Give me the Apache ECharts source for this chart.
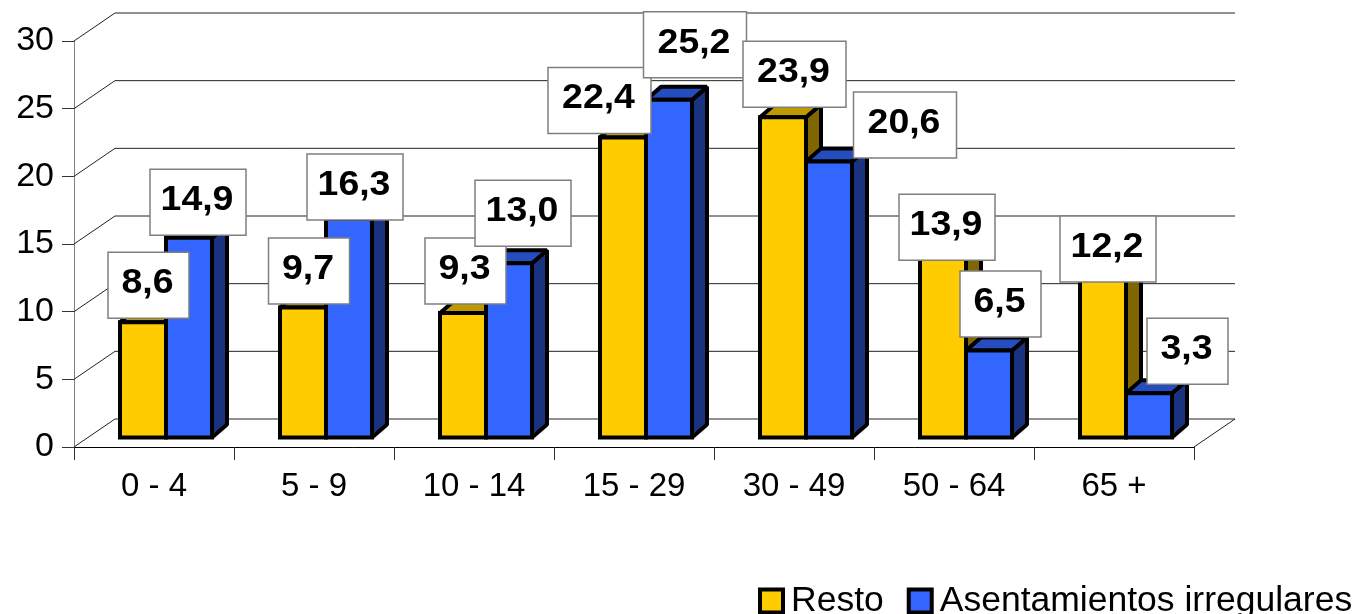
<!DOCTYPE html>
<html>
<head>
<meta charset="utf-8">
<style>html,body{margin:0;padding:0;background:#fff}#c{width:1365px;height:614px}</style>
<script src="https://cdn.jsdelivr.net/npm/echarts@6/dist/echarts.min.js"></script>
</head>
<body>
<div id="c"></div>
<script>
const categories = ['0 - 4', '5 - 9', '10 - 14', '15 - 29', '30 - 49', '50 - 64', '65 +'];
const resto = [8.6, 9.7, 9.3, 22.4, 23.9, 13.9, 12.2];
const asentamientos = [14.9, 16.3, 13.0, 25.2, 20.6, 6.5, 3.3];
const yTicks = [0, 5, 10, 15, 20, 25, 30];

// Hand-placed data-label boxes: shift from the bar centre, gap above the bar top
const restoLabelDx = [6.5, 7, 3.5, -22.5, 12.5, 5, 6];
const restoLabelGap = [4, 3.5, 9, 4, 10, -9, -8];
const asentLabelDx = [10, 7, 15, 27, 77, 12.5, 39.5];
const asentLabelGap = [2.5, -1, 17, 22, 3.5, 13.4, 9];

const WALL = [41, -28], BAR = [15, -13], BAR_W = 46, SPLIT = 12, LABEL_SPLIT = 11, FLOOR_Y = 9.5, SHRINK = 0.99;
const FONT = '"Liberation Sans", Arial, sans-serif';
const fmt = v => v.toFixed(1).replace('.', ',');

const wallSeries = {
  type: 'custom', silent: true, z: 1, clip: false,
  data: yTicks.map(v => [0, v]),
  renderItem(params, api) {
    const cs = params.coordSys, y = api.coord([0, api.value(1)])[1];
    const x0 = cs.x, x1 = cs.x + cs.width;
    const line = { stroke: '#222', lineWidth: 1, fill: null };
    const children = [
      { type: 'polyline', shape: { points: [[x0, y], [x0 + WALL[0], y + WALL[1]], [x1 + WALL[0], y + WALL[1]]] }, style: line }
    ];
    if (api.value(1) === 0) {
      children.push({ type: 'line', shape: { x1: x1, y1: y, x2: x1 + WALL[0], y2: y + WALL[1] }, style: line });
    }
    return { type: 'group', children };
  }
};

function barSeries(name, values, side, cFront, cSide, cTop) {
  return {
    name, type: 'custom', z: 3, clip: false,
    itemStyle: { color: cFront, borderColor: '#000', borderWidth: 3 },
    encode: { x: 0, y: 1 },
    data: values.map((v, i) => [i, v]),
    renderItem(params, api) {
      const p = api.coord([api.value(0), api.value(1)]);
      const z = api.coord([api.value(0), 0]);
      const zeroY = z[1] - FLOOR_Y;
      const topY = zeroY + (p[1] - z[1]) * SHRINK;
      const split = z[0] + SPLIT;
      const l = side < 0 ? split - BAR_W : split, r = l + BAR_W;
      const s = (c, join) => ({ fill: c, stroke: '#000', lineWidth: 4, lineJoin: join });
      return {
        type: 'group',
        children: [
          { type: 'polygon', shape: { points: [[r, topY], [r + BAR[0], topY + BAR[1]], [r + BAR[0], zeroY + BAR[1]], [r, zeroY]] }, style: s(cSide, 'bevel') },
          { type: 'polygon', shape: { points: [[l, topY], [l + BAR[0], topY + BAR[1]], [r + BAR[0], topY + BAR[1]], [r, topY]] }, style: s(cTop, 'bevel') },
          { type: 'polygon', shape: { points: [[l, topY], [r, topY], [r, zeroY], [l, zeroY]] }, style: s(cFront, 'miter') }
        ]
      };
    }
  };
}

const labelRows = [];
categories.forEach((c, i) => {
  labelRows.push([i, resto[i], -1, restoLabelDx[i], restoLabelGap[i]]);
  labelRows.push([i, asentamientos[i], 1, asentLabelDx[i], asentLabelGap[i]]);
});

const labelSeries = {
  type: 'custom', z: 5, clip: false, silent: true,
  encode: { x: 0, y: 1 },
  data: labelRows,
  renderItem(params, api) {
    const v = api.value(1);
    const p = api.coord([api.value(0), v]);
    const z = api.coord([api.value(0), 0]);
    const topY = z[1] - FLOOR_Y + (p[1] - z[1]) * SHRINK;
    const cx = z[0] + LABEL_SPLIT + api.value(2) * BAR_W / 2 + api.value(3);
    const bottom = topY - api.value(4);
    const txt = fmt(v);
    const w = v < 10 ? 81 : (txt[0] === '1' ? 96 : 103);
    const h = 66;
    return {
      type: 'group',
      children: [
        { type: 'rect', shape: { x: cx - w / 2, y: bottom - h, width: w, height: h }, style: { fill: '#fff', stroke: '#7f7f7f', lineWidth: 1.5 } },
        { type: 'text', x: cx - 1, y: bottom - h / 2 - 2, scaleX: 1.07, style: { text: txt, fontFamily: FONT, fontSize: 35, fontWeight: 'bold', fill: '#000', textAlign: 'center', textVerticalAlign: 'middle' } }
      ]
    };
  }
};

const chart = echarts.init(document.getElementById('c'), null, { renderer: 'canvas' });
chart.setOption({
  animation: false,
  backgroundColor: '#fff',
  grid: { left: 74, top: 41, width: 1120, height: 406, containLabel: false },
  xAxis: {
    type: 'category', data: categories, boundaryGap: true,
    axisLine: { show: true, lineStyle: { color: '#000', width: 1 } },
    axisTick: { show: true, length: 13, lineStyle: { color: '#333', width: 1 } },
    axisLabel: { color: '#000', fontFamily: FONT, fontSize: 33, margin: 23, interval: 0 }
  },
  yAxis: {
    type: 'value', min: 0, max: 30, interval: 5,
    splitLine: { show: false },
    axisLine: { show: true, lineStyle: { color: '#808080', width: 1 } },
    axisTick: { show: true, length: 12, lineStyle: { color: '#333', width: 1 } },
    axisLabel: { color: '#000', fontFamily: FONT, fontSize: 34, margin: 20 }
  },
  legend: {
    left: 753, top: 578, itemWidth: 23, itemHeight: 23, itemGap: 23, icon: 'rect',
    selectedMode: false,
    textStyle: { color: '#000', fontFamily: FONT, fontSize: 35.5, padding: [0, 0, 0, 3] },
    data: [
      { name: 'Resto', itemStyle: { color: '#FFCC00', borderColor: '#000', borderWidth: 4 } },
      { name: 'Asentamientos irregulares', itemStyle: { color: '#3366FF', borderColor: '#000', borderWidth: 4 } }
    ]
  },
  series: [
    wallSeries,
    barSeries('Resto', resto, -1, '#FFCC00', '#806600', '#BF9900'),
    barSeries('Asentamientos irregulares', asentamientos, 1, '#3366FF', '#1A3380', '#264DBF'),
    labelSeries
  ]
});
</script>
</body>
</html>
